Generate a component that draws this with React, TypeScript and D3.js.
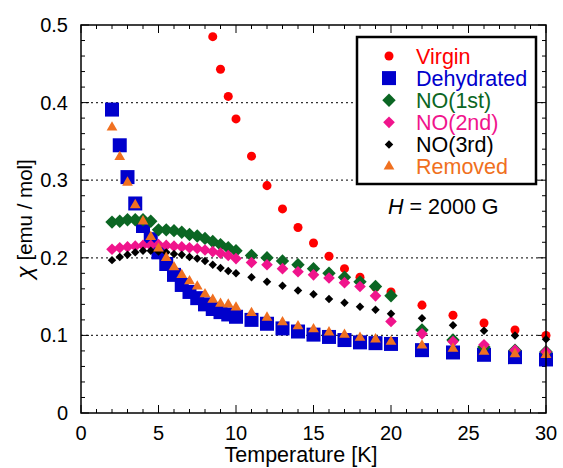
import React from 'react';
import * as d3 from 'd3';

// temperatures (K)
const temps = [2, 2.5, 3, 3.5, 4, 4.5, 5, 5.5, 6, 6.5, 7, 7.5, 8, 8.5, 9, 9.5, 10,
  11, 12, 13, 14, 15, 16, 17, 18, 19, 20, 22, 24, 26, 28, 30];
const virginTemps = [8.5, 9, 9.5, 10, 11, 12, 13, 14, 15, 16, 17, 18, 19, 20, 22, 24, 26, 28, 30];

// chi (emu / mol)
const virgin = [0.485, 0.443, 0.408, 0.379, 0.331, 0.293, 0.263, 0.239, 0.219, 0.202, 0.186,
  0.175, 0.162, 0.156, 0.139, 0.126, 0.116, 0.107, 0.100];
const dehydrated = [0.391, 0.345, 0.304, 0.270, 0.241, 0.224, 0.207, 0.192, 0.178, 0.165, 0.156,
  0.148, 0.140, 0.134, 0.130, 0.127, 0.124, 0.120, 0.115, 0.109, 0.105, 0.101, 0.098, 0.094,
  0.091, 0.090, 0.089, 0.081, 0.078, 0.075, 0.072, 0.069];
const no1st = [0.246, 0.247, 0.249, 0.249, 0.249, 0.247, 0.236, 0.236, 0.235, 0.233, 0.230,
  0.228, 0.225, 0.221, 0.217, 0.213, 0.209, 0.203, 0.200, 0.196, 0.191, 0.186, 0.180, 0.175,
  0.169, 0.163, 0.151, 0.107, 0.094, 0.085, 0.081, 0.079];
const no2nd = [0.211, 0.213, 0.214, 0.215, 0.216, 0.216, 0.217, 0.216, 0.215, 0.214, 0.213,
  0.212, 0.210, 0.208, 0.206, 0.203, 0.199, 0.194, 0.191, 0.186, 0.182, 0.178, 0.174, 0.168,
  0.163, 0.151, 0.118, 0.102, 0.092, 0.088, 0.081, 0.079];
const no3rd = [0.197, 0.201, 0.204, 0.207, 0.209, 0.209, 0.208, 0.207, 0.205, 0.204, 0.201,
  0.199, 0.196, 0.191, 0.187, 0.183, 0.180, 0.175, 0.169, 0.164, 0.158, 0.153, 0.147, 0.142,
  0.137, 0.133, 0.128, 0.122, 0.113, 0.106, 0.100, 0.095];
const removed = [0.368, 0.330, 0.297, 0.268, 0.247, 0.227, 0.212, 0.200, 0.188, 0.178, 0.170,
  0.163, 0.153, 0.146, 0.141, 0.140, 0.136, 0.129, 0.123, 0.117, 0.112, 0.108, 0.104, 0.101,
  0.097, 0.095, 0.092, 0.087, 0.083, 0.079, 0.076, 0.075];

const xTicks = [0, 5, 10, 15, 20, 25, 30];
const yTicks = [0, 0.1, 0.2, 0.3, 0.4, 0.5];
const gridLines = [0.1, 0.2, 0.3, 0.4];

const series = [
  { name: 'Virgin', t: virginTemps, v: virgin, color: '#ff0000', shape: 'circle', size: 64 },
  { name: 'Dehydrated', t: temps, v: dehydrated, color: '#0000cc', shape: 'square', size: 196 },
  { name: 'NO(1st)', t: temps, v: no1st, color: '#0b6623', shape: 'diamond', size: 90 },
  { name: 'NO(2nd)', t: temps, v: no2nd, color: '#f0148c', shape: 'diamond', size: 68 },
  { name: 'NO(3rd)', t: temps, v: no3rd, color: '#000000', shape: 'diamond', size: 36 },
  { name: 'Removed', t: temps, v: removed, color: '#f07020', shape: 'triangle', size: 50 },
];

const font = "'Liberation Sans', Arial, sans-serif";

function symbolPath(shape: string, size: number) {
  const type = shape === 'circle' ? d3.symbolCircle
    : shape === 'triangle' ? d3.symbolTriangle
    : d3.symbolSquare;
  return d3.symbol().type(type).size(size)() as string;
}

function Marker({ s, x, y }: any) {
  const rot = s.shape === 'diamond' ? ' rotate(45)' : '';
  return <path d={symbolPath(s.shape, s.size)} transform={`translate(${x},${y})${rot}`} fill={s.color} />;
}

export default function App() {
  const width = 563, height = 468;
  const margin = { top: 25, left: 81, bottom: 55, right: 17 };
  const x = d3.scaleLinear().domain([0, 30]).range([margin.left, width - margin.right]);
  const y = d3.scaleLinear().domain([0, 0.5]).range([height - margin.bottom, margin.top]);
  const [x0, x1] = x.range();
  const [y0, y1] = y.range();

  const xMinor = d3.range(0, 31, 1);
  const yMinor = d3.range(0, 0.5001, 0.02);

  return (
    <svg width={width} height={height} style={{ position: 'absolute', left: 0, top: 0, background: '#fff' }}
      fontFamily={font}>
      {gridLines.map(g => (
        <line key={g} x1={x0} x2={x1} y1={y(g)} y2={y(g)} stroke="#333" strokeWidth={1.2} strokeDasharray="2,3" />
      ))}

      {/* ticks: bottom & top */}
      {xMinor.map(t => {
        const len = t % 5 === 0 ? 8 : 4;
        return (
          <g key={'xt' + t}>
            <line x1={x(t)} x2={x(t)} y1={y0} y2={y0 - len} stroke="#000" />
            <line x1={x(t)} x2={x(t)} y1={y1} y2={y1 + len} stroke="#000" />
          </g>
        );
      })}
      {yMinor.map((v, i) => {
        const len = i % 5 === 0 ? 8 : 4;
        return (
          <g key={'yt' + i}>
            <line x1={x0} x2={x0 + len} y1={y(v)} y2={y(v)} stroke="#000" />
            <line x1={x1} x2={x1 - len} y1={y(v)} y2={y(v)} stroke="#000" />
          </g>
        );
      })}

      {/* data */}
      {series.map(s => (
        <g key={s.name}>
          {s.t.map((t, i) => <Marker key={i} s={s} x={x(t)} y={y(s.v[i])} />)}
        </g>
      ))}

      <rect x={x0} y={y1} width={x1 - x0} height={y0 - y1} fill="none" stroke="#000" strokeWidth={1.5} />

      {/* tick labels */}
      {xTicks.map(t => (
        <text key={'xl' + t} x={x(t)} y={y0 + 27} textAnchor="middle" fontSize={20}>{t}</text>
      ))}
      {yTicks.map(v => (
        <text key={'yl' + v} x={x0 - 13} y={y(v) + 7} textAnchor="end" fontSize={20}>{v}</text>
      ))}

      <text x={301} y={462} textAnchor="middle" fontSize={21.5}>Temperature [K]</text>
      <text transform={`translate(32,${(y0 + y1) / 2}) rotate(-90)`} textAnchor="middle" fontSize={20.5}>
        <tspan fontStyle="italic" fontSize={23}>χ</tspan> [emu / mol]
      </text>

      {/* legend */}
      <rect x={357} y={37} width={179} height={147} fill="#fff" stroke="#000" strokeWidth={2.5} />
      {series.map((s, i) => (
        <g key={'lg' + s.name}>
          <Marker s={s} x={389} y={56 + i * 22.1} />
          <text x={416} y={56 + i * 22.1 + 7.5} fontSize={21.5} fill={s.color}>{s.name}</text>
        </g>
      ))}

      <text x={388} y={214} fontSize={21.5}>
        <tspan fontStyle="italic">H</tspan> = 2000 G
      </text>
    </svg>
  );
}
